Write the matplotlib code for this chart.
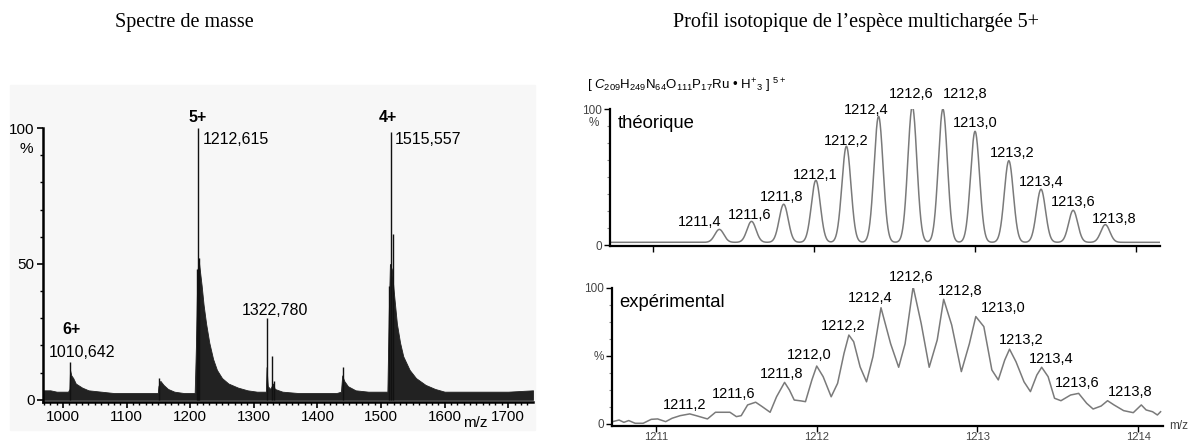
import numpy as np
import matplotlib.pyplot as plt
from matplotlib.patches import Rectangle
from matplotlib.ticker import MultipleLocator

plt.rcParams['font.family'] = ['Liberation Sans', 'DejaVu Sans']
plt.rcParams['mathtext.fontset'] = 'custom'
plt.rcParams['mathtext.rm'] = 'Liberation Sans'
plt.rcParams['mathtext.it'] = 'Liberation Sans:italic'

# --- spectre de masse (gauche) ---
# enveloppe du bruit / des massifs (m/z, %)
env_mz = [968, 980, 990, 1000, 1008, 1010, 1011, 1013, 1016, 1020, 1030, 1040,
          1060, 1080, 1100, 1120, 1140, 1149, 1150, 1153, 1158, 1165, 1175, 1190,
          1207, 1209, 1211, 1213, 1215, 1218, 1221, 1225, 1230, 1236, 1242, 1250,
          1260, 1275, 1290, 1305, 1319, 1320, 1322, 1326, 1330, 1333, 1345, 1370,
          1400, 1430, 1437, 1439, 1442, 1448, 1460, 1480, 1500, 1510, 1512, 1514,
          1517, 1520, 1525, 1530, 1535, 1545, 1555, 1570, 1585, 1600, 1650, 1700, 1739]
env_int = [3.5, 3.5, 3, 3, 3, 4, 11, 9, 8, 6, 4.5, 3.5,
           3, 2.5, 2.5, 2.5, 2.5, 2.5, 5, 7, 5.5, 4, 3, 2.5,
           2.5, 20, 45, 52, 48, 42, 35, 28, 21, 15, 11, 8,
           6, 4.5, 3.5, 3, 3, 12, 5, 4, 6, 4, 3, 2.5,
           2.5, 2.5, 3, 9, 7, 5, 3.5, 3, 3, 3, 30, 50,
           48, 40, 28, 21, 16, 11, 8, 5.5, 4, 3, 3, 3, 3.5]
# pics principaux
stick_mz = [1011, 1150.5, 1210.5, 1212.5, 1214.5, 1321, 1328, 1332, 1440, 1513, 1515.5, 1519]
stick_int = [14, 8, 48, 100, 52, 30, 16, 7, 12, 42, 98.5, 61]

# --- profil isotopique ---
theo_mz = [1211.41, 1211.61, 1211.81, 1212.01, 1212.20, 1212.40, 1212.61,
           1212.80, 1213.00, 1213.21, 1213.41, 1213.61, 1213.81]
theo_int = [9.5, 15.4, 28, 45.6, 70.6, 92.6, 100, 98, 81.6, 60, 39, 23.5, 13]
theo_lab = ['1211,4', '1211,6', '1211,8', '1212,1', '1212,2', '1212,4', '1212,6',
            '1212,8', '1213,0', '1213,2', '1213,4', '1213,6', '1213,8']

exp_mz = [1210.73, 1210.77, 1210.80, 1210.83, 1210.87, 1210.92, 1210.97, 1211.01,
          1211.06, 1211.10, 1211.15, 1211.21, 1211.25, 1211.32, 1211.37, 1211.42,
          1211.46, 1211.50, 1211.53, 1211.57, 1211.62, 1211.66, 1211.71, 1211.75,
          1211.80, 1211.83, 1211.86, 1211.90, 1211.93, 1211.97, 1212.00, 1212.04,
          1212.09, 1212.13, 1212.17, 1212.20, 1212.23, 1212.27, 1212.31, 1212.35,
          1212.40, 1212.46, 1212.51, 1212.55, 1212.60, 1212.65, 1212.70, 1212.75,
          1212.79, 1212.84, 1212.90, 1212.95, 1212.99, 1213.04, 1213.09, 1213.13,
          1213.17, 1213.20, 1213.24, 1213.29, 1213.33, 1213.37, 1213.40, 1213.44,
          1213.48, 1213.52, 1213.58, 1213.63, 1213.68, 1213.72, 1213.77, 1213.81,
          1213.85, 1213.91, 1213.97, 1214.02, 1214.05, 1214.09, 1214.12, 1214.14]
exp_int = [1.7, 2.9, 1.2, 2.5, 0.5, 0.5, 3.4, 3.7,
           1.7, 4.2, 6.1, 7.4, 6.1, 3.7, 8.6, 8.6,
           8.6, 5.4, 6.1, 14, 16, 12.8, 8.6, 20,
           30.6, 25, 17.6, 17, 16.4, 32.4, 42.6, 34.8,
           20, 29.9, 52, 65.4, 60.5, 42, 31, 49.5,
           85.5, 59, 41.7, 59, 101, 74, 41.7, 61.8,
           91.7, 72.8, 38.5, 59, 79, 71.6, 39.7, 32.4,
           47, 55, 45.8, 31, 23.8, 36, 41.7, 34.8,
           18.9, 17.1, 21.3, 22.5, 15.2, 11, 13.2, 17.1,
           14, 9.8, 8.3, 14, 10.3, 9, 6.6, 9]
exp_lab = ['1211,2', '1211,6', '1211,8', '1212,0', '1212,2', '1212,4', '1212,6',
           '1212,8', '1213,0', '1213,2', '1213,4', '1213,6', '1213,8']

fig = plt.figure(figsize=(11.9, 4.43), dpi=100)

# fond gris du scan
fig.patches.append(Rectangle((10/1190, 13/443), 525/1190, 345/443,
                             transform=fig.transFigure, color='#f7f7f7', zorder=-5))

fig.text(184/1190, 1-22/443, 'Spectre de masse', family='Liberation Serif',
         fontsize=14.5, ha='center', va='center')
fig.text(856/1190, 1-22/443, 'Profil isotopique de l’espèce multichargée 5+',
         family='Liberation Serif', fontsize=14.5, ha='center', va='center')

# ---- gauche
ax = fig.add_axes([43/1190, 41/443, 490/1190, 274/443])
ax.patch.set_alpha(0)
ax.fill_between(env_mz, 0, env_int, color='#222222', lw=0.6)
ax.vlines(stick_mz, 0, stick_int, color='#111111', lw=1.0, clip_on=False)
ax.set_xlim(968.5, 1739)
ax.set_ylim(-0.8, 100)
for s in ['top', 'right']:
    ax.spines[s].set_visible(False)
for s in ['left', 'bottom']:
    ax.spines[s].set_linewidth(1.8)
ax.set_xticks([1000, 1100, 1200, 1300, 1400, 1500, 1600, 1700])
ax.xaxis.set_minor_locator(MultipleLocator(10))
ax.set_yticks([0, 50, 100])
ax.yaxis.set_minor_locator(MultipleLocator(10))
ax.tick_params(labelsize=11, length=4, width=1.2, pad=2)
ax.tick_params(which='minor', length=2.5, width=1)
ax.text(-0.035, 0.925, '%', transform=ax.transAxes, ha='center', va='center', fontsize=11)
ax.text(1648, -8.5, 'm/z', ha='center', va='center', fontsize=11)
ax.text(1212, 103.7, '5+', weight='bold', ha='center', va='center', fontsize=11.5)
ax.text(1220, 95.6, '1212,615', ha='left', va='center', fontsize=11.5)
ax.text(1511, 103.7, '4+', weight='bold', ha='center', va='center', fontsize=11.5)
ax.text(1522, 95.6, '1515,557', ha='left', va='center', fontsize=11.5)
ax.text(1014, 25.7, '6+', weight='bold', ha='center', va='center', fontsize=11.5)
ax.text(1030, 17.3, '1010,642', ha='center', va='center', fontsize=11.5)
ax.text(1333, 33, '1322,780', ha='center', va='center', fontsize=11.5)

# ---- droite, théorique
grid = np.linspace(1210.73, 1214.15, 3000)
curve = 2.0 + sum(h * np.exp(-0.5 * ((grid - m) / 0.028) ** 2)
                  for m, h in zip(theo_mz, theo_int))

a1 = fig.add_axes([610/1190, 197/443, 550/1190, 137/443])
a1.plot(grid, curve, color='#7a7a7a', lw=1.1)
a1.set_xlim(1210.73, 1214.15)
a1.set_ylim(-0.7, 100)
theo_lx = [1211.286, 1211.596, 1211.80, 1212.006, 1212.199, 1212.323, 1212.602,
           1212.938, 1213.0, 1213.23, 1213.41, 1213.609, 1213.863]
theo_ly = [16.9, 22, 35.3, 51.5, 76.5, 99.3, 111, 111, 89.7, 67.6, 46.3, 31.6, 19.1]
for t, x, y in zip(theo_lab, theo_lx, theo_ly):
    a1.text(x, y, t, ha='center', va='center', fontsize=10.5, clip_on=False)
a1.text(1210.776, 89.7, 'théorique', ha='left', va='center', fontsize=13.3)
a1.set_xticks([1211, 1212, 1213, 1214])
a1.set_xticklabels([])
a1.set_yticks([0, 100])
a1.set_yticklabels(['0', '100'])
a1.yaxis.set_minor_locator(MultipleLocator(12.5))
a1.text(-0.03, 0.9, '%', transform=a1.transAxes, ha='center', va='center',
        fontsize=8.5, color='#444444')

# ---- droite, expérimental
a2 = fig.add_axes([612/1190, 17/443, 551/1190, 138/443])
a2.plot(exp_mz, exp_int, color='#7a7a7a', lw=1.1)
a2.set_xlim(1210.726, 1214.155)
a2.set_ylim(-1.5, 100)
exp_lx = [1211.18, 1211.485, 1211.784, 1211.952, 1212.164, 1212.332, 1212.587,
          1212.892, 1213.159, 1213.271, 1213.458, 1213.62, 1213.95]
exp_ly = [14, 22, 36.8, 50.7, 72, 92.6, 108, 97.8, 85.3, 61.8, 47.8, 30.1, 23.5]
for t, x, y in zip(exp_lab, exp_lx, exp_ly):
    a2.text(x, y, t, ha='center', va='center', fontsize=10.5, clip_on=False)
a2.text(1210.77, 89.7, 'expérimental', ha='left', va='center', fontsize=13.3)
a2.set_xticks([1211, 1212, 1213, 1214])
a2.set_yticks([0, 50, 100])
a2.set_yticklabels(['0', '%', '100'])
a2.yaxis.set_minor_locator(MultipleLocator(12.5))
a2.text(1.012, 0.0, 'm/z', transform=a2.transAxes, ha='left', va='center',
        fontsize=8.5, color='#444444')

for a in (a1, a2):
    a.patch.set_alpha(0)
    for s in ['top', 'right']:
        a.spines[s].set_visible(False)
    for s in ['left', 'bottom']:
        a.spines[s].set_linewidth(1.6)
    a.tick_params(labelsize=8.5, labelcolor='#444444', length=4, width=1, pad=2)
    a.tick_params(which='minor', length=2, width=0.8, color='#888888')
a2.tick_params(axis='x', labelsize=8, pad=0.5)

fig.text(587/1190, 1-85/443,
         r'[ $\mathit{C}_{209}$H$_{249}$N$_{64}$O$_{111}$P$_{17}$Ru • H$^{+}{}_{3}$ ] $^{5+}$',
         ha='left', va='center', fontsize=9.5)

fig.savefig('out.png', dpi=100)
